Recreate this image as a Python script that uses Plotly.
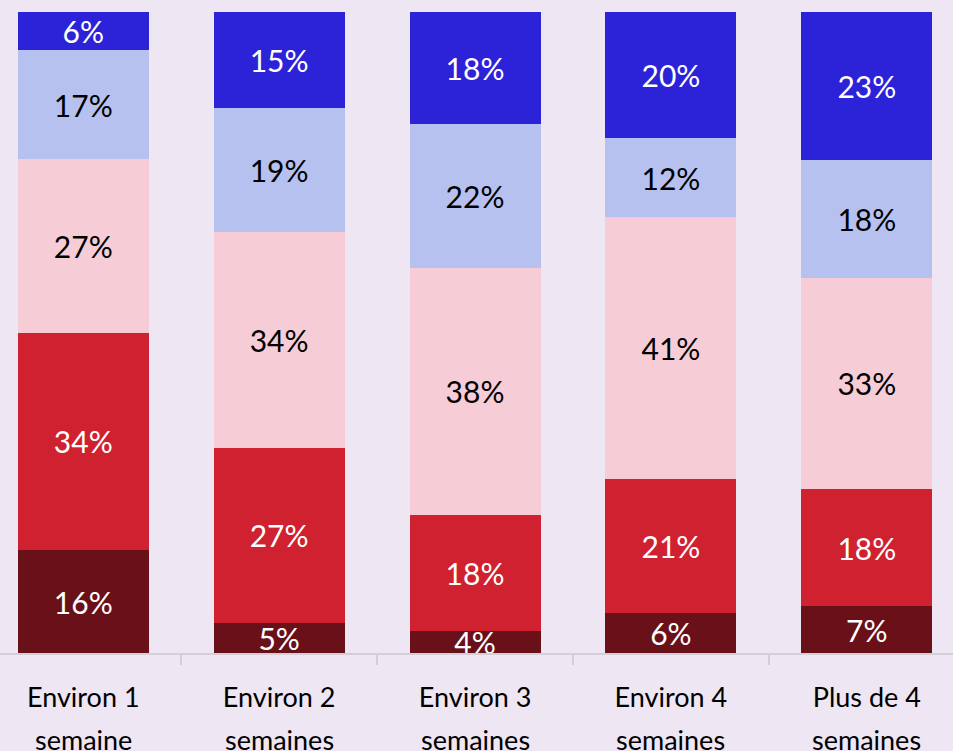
import plotly.graph_objects as go

cat_line1 = ["Environ 1", "Environ 2", "Environ 3", "Environ 4", "Plus de 4"]
cat_line2 = ["semaine", "semaines", "semaines", "semaines", "semaines"]
categories = [f"{a} {b}" for a, b in zip(cat_line1, cat_line2)]

# segments from bottom to top (percent)
s_dark_red = [16, 4.7, 3.4, 6.2, 7.3]
s_red = [34, 27.3, 18.1, 20.9, 18.3]
s_pink = [27, 33.7, 38.6, 40.9, 32.9]
s_light_blue = [17, 19.3, 22.4, 12.3, 18.4]
s_blue = [6, 15, 17.5, 19.7, 23.1]

l_dark_red = ["16%", "5%", "4%", "6%", "7%"]
l_red = ["34%", "27%", "18%", "21%", "18%"]
l_pink = ["27%", "34%", "38%", "41%", "33%"]
l_light_blue = ["17%", "19%", "22%", "12%", "18%"]
l_blue = ["6%", "15%", "18%", "20%", "23%"]

series = [
    (s_dark_red, l_dark_red, "#6A1019", "white"),
    (s_red, l_red, "#D02130", "white"),
    (s_pink, l_pink, "#F6CCD7", "black"),
    (s_light_blue, l_light_blue, "#B7C1F0", "black"),
    (s_blue, l_blue, "#2C22D8", "white"),
]

FONT = "Lato"
fig = go.Figure()
for vals, labels, color, tcolor in series:
    fig.add_trace(go.Bar(
        x=categories, y=vals, text=labels,
        marker=dict(color=color, line=dict(width=0)),
        textposition="inside", insidetextanchor="middle", textangle=0,
        constraintext="none",
        textfont=dict(family=FONT, size=30, color=tcolor),
        showlegend=False, hoverinfo="skip",
    ))

for c, l2 in zip(categories, cat_line2):
    fig.add_annotation(x=c, xref="x", y=0, yref="paper", yshift=-86,
                       text=l2, showarrow=False, yanchor="middle",
                       font=dict(family=FONT, size=27, color="black"))

fig.update_layout(
    width=953, height=751,
    margin=dict(l=0, r=0, t=12, b=98),
    paper_bgcolor="#EEE6F3", plot_bgcolor="#EEE6F3",
    barmode="stack", bargap=0.331,
    xaxis=dict(
        range=[-0.425, 4.44], tickmode="array", tickvals=categories,
        ticktext=cat_line1, tickson="boundaries", ticks="outside",
        ticklen=10, tickwidth=1.5, tickcolor="#D3CED8",
        showline=True, linecolor="#D3CED8", linewidth=2,
        tickfont=dict(family=FONT, size=27, color="black"),
        ticklabelstandoff=20, showgrid=False,
    ),
    yaxis=dict(range=[0, 100], visible=False, showgrid=False),
)

fig.write_html("out.html", config={"displayModeBar": False},
               post_script="document.body.style.margin='0';document.body.style.background='#EEE6F3';")
